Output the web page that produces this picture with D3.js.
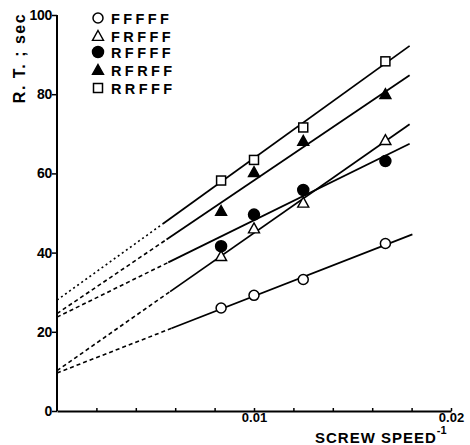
<!DOCTYPE html>
<html><head><meta charset="utf-8">
<script src="https://cdn.jsdelivr.net/npm/d3@7/dist/d3.min.js"></script>
<style>body{margin:0;background:#fff}svg{display:block}</style>
</head><body><svg id="c" width="470" height="445"></svg>
<script>
// Data
const seriesNames = ["FFFFF", "FRFFF", "RFFFF", "RFRFF", "RRFFF"];
const seriesSymbols = ["openCircle", "openTriangle", "filledCircle", "filledTriangle", "openSquare"];
const xValues = [0.00833, 0.01, 0.0125, 0.01667];
const yFFFFF = [26.0, 29.2, 33.2, 42.3];
const yFRFFF = [39.1, 46.1, 52.6, 68.4];
const yRFFFF = [41.6, 49.6, 55.8, 63.1];
const yRFRFF = [50.5, 60.3, 68.2, 80.0];
const yRRFFF = [58.2, 63.4, 71.6, 88.3];
const seriesY = [yFFFFF, yFRFFF, yRFFFF, yRFRFF, yRRFFF];
// fitted lines: value at x=0 (intercept), solid start x, end x, value at end x
const lineY0 = [9.6, 10.2, 23.7, 24.6, 28.0];
const lineSolidStart = [0.00582, 0.00574, 0.00565, 0.00556, 0.00538];
const lineEndX = [0.01804, 0.0179, 0.0179, 0.0179, 0.0179];
const lineYEnd = [44.6, 72.4, 67.5, 84.8, 92.2];
const yTicks = [0, 20, 40, 60, 80, 100];
const xTicks = [0.002, 0.004, 0.006, 0.008, 0.01, 0.012, 0.014, 0.016, 0.018, 0.02];
const xTickLabels = {"0.01": "0.01", "0.02": "0.02"};

const svg = d3.select("#c");
const x = d3.scaleLinear().domain([0, 0.02]).range([57, 451]);
const y = d3.scaleLinear().domain([0, 100]).range([411, 15]);
const font = "'Liberation Sans', Arial, sans-serif";

// lines
seriesNames.forEach((n, i) => {
  const lin = d3.scaleLinear().domain([0, lineEndX[i]]).range([lineY0[i], lineYEnd[i]]);
  const xs = lineSolidStart[i];
  svg.append("line")
    .attr("x1", x(0)).attr("y1", y(lineY0[i]))
    .attr("x2", x(xs)).attr("y2", y(lin(xs)))
    .attr("stroke", "#000").attr("stroke-width", 1.6)
    .attr("stroke-dasharray", i === 4 ? "2,3" : "4,3");
  svg.append("line")
    .attr("x1", x(xs)).attr("y1", y(lin(xs)))
    .attr("x2", x(lineEndX[i])).attr("y2", y(lineYEnd[i]))
    .attr("stroke", "#000").attr("stroke-width", 1.8);
});

// axes
const yAxis = d3.axisLeft(y).tickValues(yTicks).tickSizeInner(5).tickSizeOuter(0).tickPadding(0);
const gy = svg.append("g").attr("transform", `translate(${x(0)},0)`).call(yAxis);
gy.select(".domain").attr("stroke-width", 2).attr("d", `M0,${y(0)}V${y(100)}`);
gy.selectAll(".tick line").attr("stroke-width", 1.5);
gy.selectAll("text").attr("font-family", font).attr("font-weight", "bold").attr("font-size", 14)
  .attr("letter-spacing", -0.3).attr("fill", "#000");

const xAxis = d3.axisBottom(x).tickValues(xTicks).tickSizeInner(-3).tickSizeOuter(0).tickPadding(2)
  .tickFormat(d => xTickLabels[String(+d.toFixed(3))] || "");
const gx = svg.append("g").attr("transform", `translate(0,${y(0)})`).call(xAxis);
gx.select(".domain").attr("stroke-width", 2);
gx.selectAll(".tick line").attr("stroke-width", 1.5);
gx.selectAll("text").attr("font-family", font).attr("font-weight", "bold").attr("font-size", 13).attr("fill", "#000");

// axis titles
svg.append("text").attr("transform", "translate(25,58) rotate(-90)")
  .attr("text-anchor", "middle").attr("font-family", font).attr("font-weight", "bold")
  .attr("font-size", 16).attr("letter-spacing", 1.5).text("R. T. ; sec");
const xt = svg.append("text").attr("x", 315).attr("y", 443).attr("font-family", font)
  .attr("font-weight", "bold").attr("font-size", 15).attr("letter-spacing", 1).text("SCREW SPEED");
xt.append("tspan").attr("dy", -9).attr("font-size", 11).attr("letter-spacing", 0).text("-1");

// symbols
function drawSym(g, type, cx, cy) {
  if (type === "openCircle" || type === "filledCircle") {
    g.append("circle").attr("cx", cx).attr("cy", cy).attr("r", type === "filledCircle" ? 5.5 : 5)
      .attr("fill", type === "filledCircle" ? "#000" : "#fff").attr("stroke", "#000").attr("stroke-width", 1.5);
  } else if (type === "openSquare") {
    g.append("rect").attr("x", cx - 4.5).attr("y", cy - 4.5).attr("width", 9).attr("height", 9)
      .attr("fill", "#fff").attr("stroke", "#000").attr("stroke-width", 1.5);
  } else {
    const s = 5.5;
    g.append("path").attr("d", `M${cx},${cy - s}L${cx + s},${cy + s * 0.8}L${cx - s},${cy + s * 0.8}Z`)
      .attr("fill", type === "filledTriangle" ? "#000" : "#fff").attr("stroke", "#000").attr("stroke-width", 1.4);
  }
}
const gm = svg.append("g");
seriesNames.forEach((n, i) => {
  xValues.forEach((xv, j) => drawSym(gm, seriesSymbols[i], x(xv), y(seriesY[i][j])));
});

// legend
const legendY = [18, 36, 52, 70, 88];
const gl = svg.append("g");
seriesNames.forEach((n, i) => {
  drawSym(gl, seriesSymbols[i], 98, legendY[i]);
  gl.append("text").attr("x", 111).attr("y", legendY[i] + 5.5).attr("font-family", font)
    .attr("font-weight", "bold").attr("font-size", 14.5).attr("letter-spacing", 3.4).text(n);
});
</script></body></html>
